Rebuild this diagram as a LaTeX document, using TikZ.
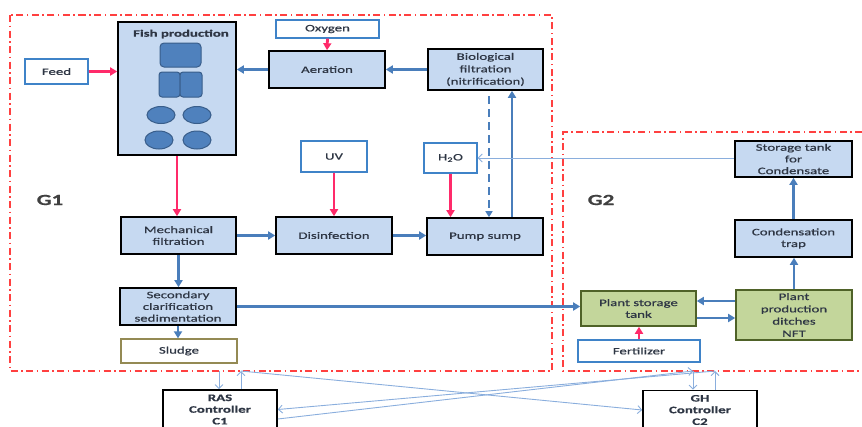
\documentclass[tikz,border=0pt]{standalone}
\usepackage{fontspec}
\setmainfont{Carlito}[FakeStretch=1.5, FakeBold=0.6]
\usetikzlibrary{arrows.meta}
\definecolor{boxblue}{HTML}{C6D9F1}
\definecolor{arrblue}{HTML}{4A7EBB}
\definecolor{inblue}{HTML}{3F83C8}
\definecolor{pinkc}{HTML}{FF2A6A}
\definecolor{redd}{HTML}{FF4040}
\definecolor{txtc}{HTML}{2E3644}
\definecolor{gtxt}{HTML}{404040}
\definecolor{greenf}{HTML}{C3D69B}
\definecolor{greenb}{HTML}{4F6228}
\definecolor{tankf}{HTML}{4F81BD}
\definecolor{tankb}{HTML}{385D8A}
\definecolor{lightc}{HTML}{8AAEDD}
\definecolor{sludgeb}{HTML}{948A54}
\newcommand{\fsn}{\fontsize{9.9}{11.7}\selectfont}
\tikzset{
 procbox/.style={draw=black, line width=1.6pt, fill=boxblue, text=txtc, font=\fsn, align=center, inner sep=0pt},
 inbox/.style={draw=inblue, line width=1.3pt, fill=white, text=txtc, font=\fsn, align=center, inner sep=0pt},
 sludgebox/.style={draw=sludgeb, line width=1.3pt, fill=white, text=txtc, font=\fsn, align=center, inner sep=0pt},
 plantbox/.style={draw=greenb, line width=1.6pt, fill=greenf, text=txtc, font=\fsn, align=center, inner sep=0pt},
 ctrlbox/.style={draw=black, line width=1.6pt, fill=white, text=txtc, font=\fsn\bfseries, align=center, inner sep=0pt},
 flow/.style={draw=arrblue, line width=2.6pt, -{Triangle[length=7pt,width=8pt]}},
 dflow/.style={draw=arrblue, line width=2.6pt, dash pattern=on 8pt off 5pt, -{Triangle[length=6pt,width=7pt]}},
 pinkarr/.style={draw=pinkc, line width=2.8pt, -{Triangle[length=7pt,width=8pt]}},
 thinarr/.style={draw=lightc, line width=0.9pt, -{Straight Barb[length=4pt,width=8pt]}},
 bnd/.style={draw=redd, line width=1.8pt, dash pattern=on 7pt off 3.5pt on 1.5pt off 3.5pt},
 tank/.style={draw=tankb, fill=tankf, line width=1pt},
 glabel/.style={font=\fontsize{15.5}{18}\selectfont\bfseries, text=gtxt}
}
\begin{document}
\begin{tikzpicture}[x=1pt,y=-1pt]
\useasboundingbox (0,0) rectangle (862,426);
% boundaries
\draw[bnd] (10,15) rectangle (552,371);
\draw[bnd] (862,132) -- (563,132) -- (563,371) -- (862,371);
\node[glabel] (g1) at (50,200) {G1};
\node[glabel] (g2) at (601,200) {G2};

% nodes
\node[inbox, minimum width=63pt, minimum height=25pt] (feed) at (56.5,71.5) {Feed};
\node[procbox, minimum width=118pt, minimum height=133pt] (fish) at (177,88.5) {};
\node[font=\fsn\bfseries, text=txtc, inner sep=0pt] (fishtitle) at (181,34) {Fish production};
\draw[tank, rounded corners=4pt] (160,43) rectangle (201,67);
\draw[tank, rounded corners=3pt] (159,72) rectangle (180,97);
\draw[tank, rounded corners=3pt] (180,72) rectangle (202,97);
\draw[tank] (161,115) ellipse [x radius=14, y radius=8.5];
\draw[tank] (197,115) ellipse [x radius=14, y radius=8.5];
\draw[tank] (159,140) ellipse [x radius=14, y radius=9];
\draw[tank] (197,140) ellipse [x radius=14, y radius=9];

\node[inbox, minimum width=103pt, minimum height=18pt] (oxy) at (327.5,29) {Oxygen};
\node[procbox, minimum width=116pt, minimum height=37pt] (aer) at (327,69.5) {Aeration};
\node[procbox, minimum width=115pt, minimum height=41pt, font=\fontsize{9.9}{12.4}\selectfont] (bio) at (485.5,69.5) {Biological\\filtration\\(nitrification)};
\node[inbox, minimum width=66pt, minimum height=31pt] (uv) at (334,156.5) {UV};
\node[inbox, minimum width=53pt, minimum height=30pt] (h2o) at (450.5,158) {H\textsubscript{2}O};
\node[procbox, minimum width=115pt, minimum height=37pt] (mech) at (178.5,235.5) {Mechanical\\filtration};
\node[procbox, minimum width=116pt, minimum height=37pt] (dis) at (334,235.5) {Disinfection};
\node[procbox, minimum width=116pt, minimum height=37pt] (pump) at (485,236.5) {Pump sump};
\node[procbox, minimum width=116pt, minimum height=37pt] (sec) at (178,306.5) {Secondary\\clarification\\sedimentation};
\node[sludgebox, minimum width=116pt, minimum height=24pt] (sludge) at (179,351) {Sludge};
\node[procbox, minimum width=117pt, minimum height=36pt] (stor) at (793.5,159) {Storage tank\\for\\Condensate};
\node[procbox, minimum width=117pt, minimum height=37pt] (cond) at (793.5,238.5) {Condensation\\trap};
\node[plantbox, minimum width=115pt, minimum height=35pt] (pst) at (638.5,308.5) {Plant storage\\tank};
\node[plantbox, minimum width=116pt, minimum height=50pt, font=\fontsize{9.9}{12.3}\selectfont] (ppd) at (794,315) {Plant\\production\\ditches\\NFT};
\node[inbox, minimum width=122pt, minimum height=22pt] (fert) at (639,351) {Fertilizer};
\node[ctrlbox, minimum width=114pt, minimum height=39pt] (ras) at (220,409.5) {RAS\\Controller\\C1};
\node[ctrlbox, minimum width=114pt, minimum height=39pt] (gh) at (700,410) {GH\\Controller\\C2};

% pink arrows
\draw[pinkarr] (feed.east) -- (feed.east -| fish.west);
\draw[pinkarr] (oxy.south) -- (aer.north);
\draw[pinkarr] (fish.south) -- (fish.south |- mech.north);
\draw[pinkarr] (uv.south) -- (uv.south |- dis.north);
\draw[pinkarr] (h2o.south) -- (h2o.south |- pump.north);
\draw[pinkarr] (fert.north) -- (fert.north |- pst.south);

% blue flows
\draw[flow] (aer.west) -- (aer.west -| fish.east);
\draw[flow] (bio.west) -- (aer.east);
\draw[flow] (mech.east) -- (dis.west);
\draw[flow] (dis.east) -- (dis.east -| pump.west);
\coordinate (upx) at (512,0);
\coordinate (dnx) at (489,96);
\draw[flow] (upx |- pump.north) -- (upx |- bio.south);
\draw[dflow] (dnx) -- (dnx |- pump.north);
\draw[flow] (mech.south) -- (mech.south |- sec.north);
\draw[flow] (sec.south) -- (sec.south |- sludge.north);
\draw[flow] (sec.east) -- (sec.east -| pst.west);
\coordinate (ya) at (0,301);
\coordinate (yb) at (0,318);
\draw[flow] (ppd.west |- ya) -- (pst.east |- ya);
\draw[flow] (pst.east |- yb) -- (ppd.west |- yb);
\draw[flow] (ppd.north) -- (ppd.north |- cond.south);
\draw[flow] (cond.north) -- (cond.north |- stor.south);
\draw[thinarr] (stor.west |- h2o.east) -- (h2o.east);

% controller links
\coordinate (c1dn) at (219,371);
\coordinate (c1up) at (241,371);
\coordinate (c2dn) at (693,371);
\coordinate (c2up) at (715,371);
\coordinate (yc) at (0,419);
\draw[thinarr] (c1dn) -- (c1dn |- ras.north);
\draw[thinarr] (c1up |- ras.north) -- (c1up);
\draw[thinarr] (c2dn) -- (c2dn |- gh.north);
\draw[thinarr] (c2up |- gh.north) -- (c2up);
\draw[thinarr] (c1up) -- (gh.west);
\draw[thinarr] (c2up) -- (ras.east);
\draw[thinarr] (ras.east |- yc) -- (c2dn);
\end{tikzpicture}
\end{document}
